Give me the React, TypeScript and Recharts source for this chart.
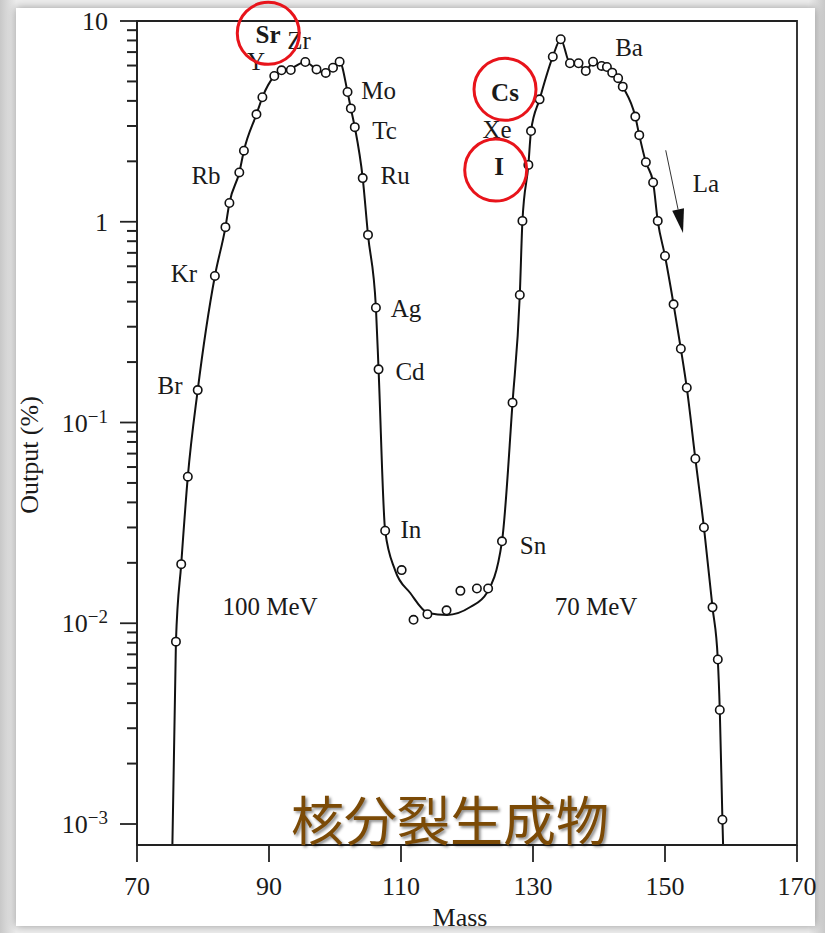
import React from 'react';
import {
  ComposedChart,
  Line,
  Scatter,
  XAxis,
  YAxis,
  ReferenceArea,
  ReferenceDot,
  ReferenceLine,
} from 'recharts';

// fitted curve (mass, output %)
const curveMass = [
  75.3, 75.9, 76.7, 77.7, 79.2, 81.8, 83.4, 84.0, 85.5, 86.2, 88.1, 89.0, 90.8, 91.9, 93.3, 95.5, 97.2,
  98.6, 99.7, 100.7, 101.9, 102.4, 103.0, 104.2, 105.0, 106.2, 106.6, 107.6, 109.1, 111.4, 114.1, 117.0,
  120.5, 123.0, 125.3, 126.9, 128.0, 128.4, 129.3, 129.7, 131.0, 133.0, 134.2, 135.6, 136.9, 138.0, 139.1,
  140.4, 141.2, 142.0, 142.9, 143.6, 145.5, 146.1, 147.1, 148.2, 148.9, 150.0, 151.3, 152.4, 153.3, 154.6,
  155.9, 157.2, 158.0, 158.3, 158.7, 158.9,
];
const curveOutput = [
  0.0006, 0.0081, 0.0197, 0.0537, 0.145, 0.537, 0.94, 1.24, 1.76, 2.26, 3.43, 4.17, 5.32, 5.68, 5.8, 6.25,
  5.74, 5.51, 5.85, 6.27, 4.43, 3.67, 2.96, 1.65, 0.86, 0.373, 0.184, 0.0289, 0.0184, 0.01415, 0.01125,
  0.011, 0.01205, 0.01415, 0.0256, 0.1256, 0.432, 1.01, 1.92, 2.83, 4.07, 6.64, 8.11, 6.16, 6.1, 5.7, 6.2,
  5.97, 5.88, 5.53, 5.19, 4.71, 3.34, 2.7, 1.98, 1.57, 1.01, 0.675, 0.388, 0.233, 0.149, 0.066, 0.03, 0.012,
  0.0066, 0.0037, 0.00105, 0.0006,
];

// measured points
const pointMass = [
  75.9, 76.7, 77.7, 79.2, 81.8, 83.4, 84.0, 85.5, 86.2, 88.1, 89.0, 90.8, 91.9, 93.3, 95.5, 97.2, 98.6,
  99.7, 100.7, 101.9, 102.4, 103.0, 104.2, 105.0, 106.2, 106.6, 107.6, 110.1, 111.9, 114.0, 116.9, 119.0,
  121.5, 123.2, 125.3, 126.9, 128.0, 128.4, 129.3, 129.7, 131.0, 133.0, 134.2, 135.6, 136.9, 138.0, 139.1,
  140.4, 141.2, 142.0, 142.9, 143.6, 145.5, 146.1, 147.1, 148.2, 148.9, 150.0, 151.3, 152.4, 153.3, 154.6,
  155.9, 157.2, 158.0, 158.3, 158.7,
];
const pointOutput = [
  0.0081, 0.0197, 0.0537, 0.145, 0.537, 0.94, 1.24, 1.76, 2.26, 3.43, 4.17, 5.32, 5.68, 5.7, 6.25, 5.74,
  5.51, 5.85, 6.27, 4.43, 3.67, 2.96, 1.65, 0.86, 0.373, 0.184, 0.0289, 0.0184, 0.0104, 0.0111, 0.0116,
  0.0145, 0.0149, 0.0149, 0.0256, 0.1256, 0.432, 1.01, 1.92, 2.83, 4.07, 6.64, 8.11, 6.16, 6.16, 5.64, 6.27,
  5.97, 5.9, 5.53, 5.19, 4.71, 3.34, 2.7, 1.98, 1.57, 1.01, 0.675, 0.388, 0.233, 0.149, 0.066, 0.03, 0.012,
  0.0066, 0.0037, 0.00105,
];

const xTicks = [70, 90, 110, 130, 150, 170];
const yMajorTicks = [0.001, 0.01, 0.1, 1, 10];
const yTickLabels = ['10^−3', '10^−2', '10^−1', '1', '10'];
const minorSteps = [2, 3, 4, 5, 6, 7, 8, 9];
const Y_MIN = 0.000786;
const Y_MAX = 10;

// element annotations
const elementNames = ['Sr', 'Zr', 'Y', 'Mo', 'Tc', 'Ru', 'Rb', 'Kr', 'Br', 'Ag', 'Cd', 'In', 'Sn', 'Cs', 'Xe', 'I', 'Ba', 'La', '100 MeV', '70 MeV'];
const elementMass = [89.85, 94.55, 88.03, 106.6, 107.5, 109.1, 80.45, 77.1, 75.0, 110.76, 111.36, 111.5, 130.0, 125.76, 124.55, 124.85, 144.55, 156.2, 90.15, 139.55];
const elementOutput = [8.51, 7.95, 6.25, 4.48, 2.83, 1.69, 1.69, 0.55, 0.152, 0.367, 0.179, 0.0292, 0.0243, 4.37, 2.87, 1.875, 7.34, 1.54, 0.01205, 0.01205];
const boldNames = ['Sr', 'Cs', 'I'];

const circleMass = [89.89, 125.76, 124.35];
const circleOutput = [8.68, 4.57, 1.81];

const arrowMass = [150.11, 152.73];
const arrowOutput = [2.27, 0.879];

const curveData = curveMass.map((m, i) => ({ mass: m, output: curveOutput[i] }));
const pointData = pointMass.map((m, i) => ({ mass: m, output: pointOutput[i] }));

const W = 825;
const H = 933;
const MARGIN = { top: 21, right: 28, bottom: 38, left: 0 };
const X_AXIS_H = 50;
const PLOT_H = H - MARGIN.top - MARGIN.bottom - X_AXIS_H;
const DECADE_PX = PLOT_H / Math.log10(Y_MAX / Y_MIN);

const FONT = '"Liberation Serif", "Times New Roman", serif';

const YTick = (props: any) => {
  const { x, y, payload } = props;
  const idx = yMajorTicks.indexOf(payload.value);
  const [base, exp] = (yTickLabels[idx] || '').split('^');
  const hasMinor = payload.value < Y_MAX;
  return (
    <g>
      <line x1={x - 17} x2={x} y1={y} y2={y} stroke="#222" strokeWidth={1.8} />
      {hasMinor &&
        minorSteps.map((k) => {
          const my = y - Math.log10(k) * DECADE_PX;
          return <line key={k} x1={x - 10} x2={x} y1={my} y2={my} stroke="#222" strokeWidth={2} />;
        })}
      <text x={x - 29} y={y + 9} textAnchor="end" fontFamily={FONT} fontSize={26} fill="#1a1a1a">
        {base}
        {exp && (
          <tspan fontSize={19} dy={-9}>
            {exp}
          </tspan>
        )}
      </text>
    </g>
  );
};

const XTick = (props: any) => {
  const { x, y, payload } = props;
  return (
    <text x={x} y={y + 33} textAnchor="middle" fontFamily={FONT} fontSize={26} fill="#1a1a1a">
      {payload.value}
    </text>
  );
};

const OpenCircle = (props: any) => (
  <circle cx={props.cx} cy={props.cy} r={4.2} fill="#fff" stroke="#111" strokeWidth={1.6} />
);

const Arrow = (props: any) => {
  const { x1, y1, x2, y2 } = props;
  const dx = x2 - x1;
  const dy = y2 - y1;
  const len = Math.sqrt(dx * dx + dy * dy);
  const ux = dx / len;
  const uy = dy / len;
  const bx = x2 - ux * 24;
  const by = y2 - uy * 24;
  return (
    <g>
      <line x1={x1} y1={y1} x2={bx} y2={by} stroke="#333" strokeWidth={1} />
      <polygon
        points={`${x2},${y2} ${bx - uy * 6},${by + ux * 6} ${bx + uy * 6},${by - ux * 6}`}
        fill="#111"
      />
    </g>
  );
};

export default function App() {
  return (
    <div
      style={{
        position: 'absolute',
        left: 0,
        top: 0,
        width: W,
        height: H,
        background: 'linear-gradient(90deg, #c8c8c8 0%, #ededed 2%, #ededed 98%, #c8c8c8 100%)',
        overflow: 'hidden',
      }}
    >
      <div
        style={{
          position: 'absolute',
          left: 16,
          top: 8,
          width: 799,
          height: 918,
          background: '#fff',
          boxShadow: '0 0 8px rgba(0,0,0,0.35)',
        }}
      />
      <div style={{ position: 'absolute', left: 0, top: 0 }}>
        <ComposedChart width={W} height={H} margin={MARGIN}>
          <XAxis
            dataKey="mass"
            type="number"
            domain={[70, 170]}
            ticks={xTicks}
            allowDataOverflow
            height={X_AXIS_H}
            tickSize={17}
            tickMargin={0}
            stroke="#222"
            strokeWidth={1.8}
            tick={<XTick />}
          />
          <YAxis
            dataKey="output"
            type="number"
            scale="log"
            domain={[Y_MIN, Y_MAX]}
            ticks={yMajorTicks}
            allowDataOverflow
            width={137}
            tickLine={false}
            tickSize={0}
            tickMargin={0}
            interval={0}
            stroke="#222"
            strokeWidth={1.8}
            tick={<YTick />}
          />
          <ReferenceArea
            x1={70}
            x2={170}
            y1={Y_MIN}
            y2={Y_MAX}
            fill="none"
            stroke="#222"
            strokeWidth={1.8}
            ifOverflow="visible"
          />
          <Line
            data={curveData}
            dataKey="output"
            type="monotone"
            stroke="#111"
            strokeWidth={2}
            dot={false}
            isAnimationActive={false}
          />
          <Scatter data={pointData} dataKey="output" shape={<OpenCircle />} isAnimationActive={false} />
          {elementNames.map((name, i) => (
            <ReferenceDot
              key={name}
              x={elementMass[i]}
              y={elementOutput[i]}
              ifOverflow="visible"
              shape={(p: any) => (
                <text
                  x={p.cx}
                  y={p.cy + 8}
                  textAnchor="middle"
                  fontFamily={FONT}
                  fontSize={25}
                  fontWeight={boldNames.includes(name) ? 'bold' : 'normal'}
                  fill="#1a1a1a"
                >
                  {name}
                </text>
              )}
            />
          ))}
          {circleMass.map((m, i) => (
            <ReferenceDot
              key={`c${i}`}
              x={m}
              y={circleOutput[i]}
              ifOverflow="visible"
              shape={(p: any) => (
                <circle cx={p.cx} cy={p.cy} r={31} fill="none" stroke="#e8141b" strokeWidth={3} />
              )}
            />
          ))}
          <ReferenceLine
            segment={[
              { x: arrowMass[0], y: arrowOutput[0] },
              { x: arrowMass[1], y: arrowOutput[1] },
            ]}
            ifOverflow="visible"
            shape={(p: any) => <Arrow {...p} />}
          />
        </ComposedChart>
      </div>
      <div
        style={{
          position: 'absolute',
          left: 30,
          top: 455,
          transform: 'translate(-50%, -50%) rotate(-90deg)',
          fontFamily: FONT,
          fontSize: 26,
          color: '#1a1a1a',
          whiteSpace: 'nowrap',
        }}
      >
        Output (%)
      </div>
      <div
        style={{
          position: 'absolute',
          left: 460,
          top: 918,
          transform: 'translate(-50%, -50%)',
          fontFamily: FONT,
          fontSize: 26,
          color: '#1a1a1a',
        }}
      >
        Mass
      </div>
      <div
        style={{
          position: 'absolute',
          left: 250,
          width: 400,
          top: 792,
          textAlign: 'center',
          fontFamily: '"Noto Sans CJK JP", sans-serif',
          fontSize: 53,
          lineHeight: 1,
          color: '#7b4a06',
          textShadow: '2px 2px 3px rgba(0,0,0,0.45)',
        }}
      >
        核分裂生成物
      </div>
    </div>
  );
}
